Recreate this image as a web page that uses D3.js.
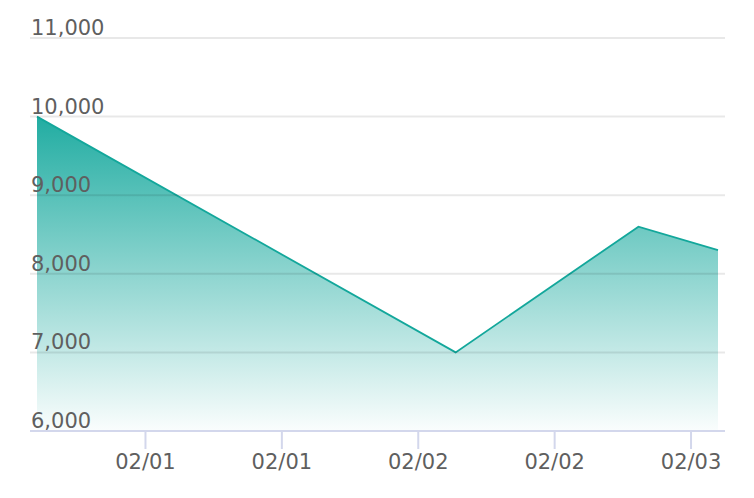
<!DOCTYPE html>
<html>
<head>
<meta charset="utf-8">
<script src="https://cdn.jsdelivr.net/npm/d3@7"></script>
<style>
  body { margin: 0; background: #fff; }
  text { font-family: "DejaVu Sans", Verdana, sans-serif; fill: #5f5f5f; }
</style>
</head>
<body>
<div id="chart"></div>
<script>
const width = 754, height = 498;

// data
const times = ["2024-01-31T14:30", "2024-02-02T03:20", "2024-02-02T19:25", "2024-02-03T02:25"];
const values = [10000, 7000, 8600, 8300];
const yTicks = [6000, 7000, 8000, 9000, 10000, 11000];
const xTicks = ["2024-02-01T00:00", "2024-02-01T12:00", "2024-02-02T00:00", "2024-02-02T12:00", "2024-02-03T00:00"];

const parse = d3.timeParse("%Y-%m-%dT%H:%M");
const data = times.map((t, i) => ({ date: parse(t), value: values[i] }));

const svg = d3.select("#chart")
  .append("svg")
  .attr("width", width)
  .attr("height", height);

const x = d3.scaleTime()
  .domain(d3.extent(data, d => d.date))
  .range([37, 718]);

const y = d3.scaleLinear()
  .domain([6000, 11000])
  .range([431, 38]);

// gradient fill
const defs = svg.append("defs");
const grad = defs.append("linearGradient")
  .attr("id", "fill")
  .attr("gradientUnits", "userSpaceOnUse")
  .attr("x1", 0).attr("x2", 0)
  .attr("y1", y(d3.max(values))).attr("y2", y(6000));
grad.append("stop").attr("offset", "0%").attr("stop-color", "#1aaa9f").attr("stop-opacity", 0.97);
grad.append("stop").attr("offset", "100%").attr("stop-color", "#1aaa9f").attr("stop-opacity", 0.02);

const area = d3.area()
  .x(d => x(d.date))
  .y0(y(6000))
  .y1(d => y(d.value));

svg.append("path")
  .datum(data)
  .attr("d", area)
  .attr("fill", "url(#fill)");

svg.append("path")
  .datum(data)
  .attr("d", d3.line().x(d => x(d.date)).y(d => y(d.value)))
  .attr("fill", "none")
  .attr("stroke", "#13a79b")
  .attr("stroke-width", 1.8);

// grid lines + labels
const grid = svg.append("g");
grid.selectAll("line")
  .data(yTicks.filter(d => d > 6000))
  .enter().append("line")
  .attr("x1", 30).attr("x2", 725)
  .attr("y1", d => y(d)).attr("y2", d => y(d))
  .attr("stroke", "rgba(0,0,0,0.09)")
  .attr("stroke-width", 2);

grid.selectAll("text")
  .data(yTicks)
  .enter().append("text")
  .attr("x", 31)
  .attr("y", d => y(d) - 3)
  .attr("font-size", 21)
  .text(d => d3.format(",")(d));

// x axis
const xAxis = d3.axisBottom(x)
  .tickValues(xTicks.map(parse))
  .tickFormat(d3.timeFormat("%m/%d"))
  .tickSize(18)
  .tickPadding(5);

const gx = svg.append("g")
  .attr("transform", `translate(0,${y(6000)})`)
  .call(xAxis);
gx.select(".domain").remove();
gx.append("line")
  .attr("x1", 30).attr("x2", 725)
  .attr("stroke", "#d3d7ec")
  .attr("stroke-width", 2);
gx.selectAll(".tick line").attr("stroke", "#d3d7ec").attr("stroke-width", 2);
gx.selectAll(".tick text")
  .attr("font-size", 21)
  .attr("font-family", "DejaVu Sans, sans-serif")
  .attr("fill", "#5f5f5f");
</script>
</body>
</html>
